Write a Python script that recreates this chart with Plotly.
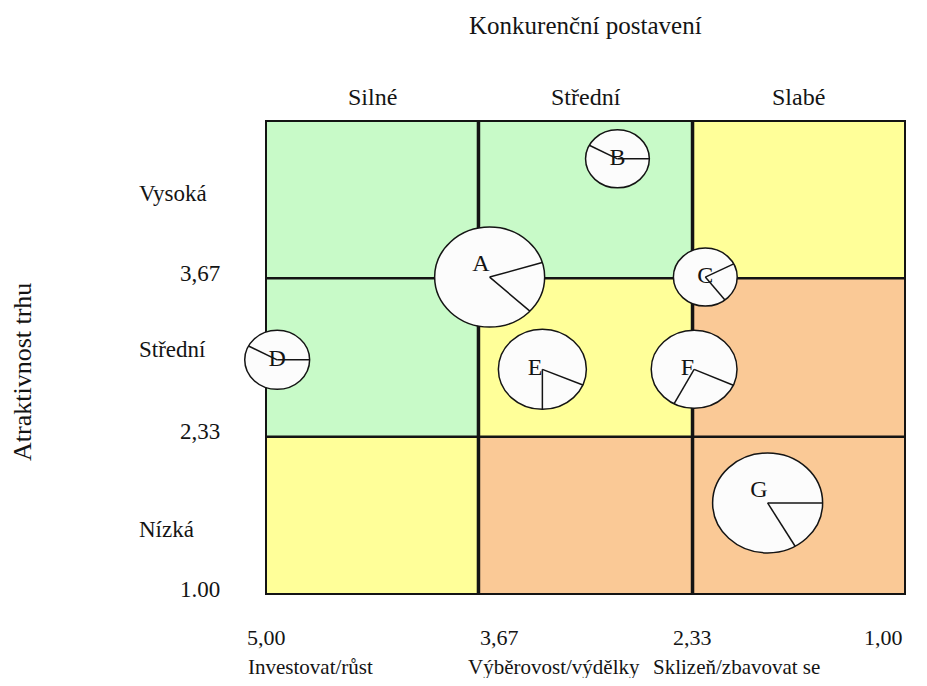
import math
import plotly.graph_objects as go

# ---------------- data ----------------
col_labels = ["Silné", "Střední", "Slabé"]
row_labels = ["Vysoká", "Střední", "Nízká"]
boundaries = [5.00, 3.67, 2.33, 1.00]
x_tick_vals = [5.00, 3.67, 2.33, 1.00]
x_tick_text = ["5,00", "3,67", "2,33", "1,00"]
y_tick_vals = [3.67, 2.33, 1.00]
y_tick_text = ["3,67", "2,33", "1.00"]
strategy_labels = ["Investovat/růst", "Výběrovost/výdělky", "Sklizeň/zbavovat se"]

units = ["A", "B", "C", "D", "E", "F", "G"]
competitive_position = [3.60, 2.80, 2.25, 4.93, 3.27, 2.32, 1.86]
market_attractiveness = [3.68, 4.68, 3.68, 2.98, 2.90, 2.90, 1.77]
market_size = [5.0, 2.9, 2.9, 2.95, 4.0, 3.9, 5.0]
share_start_deg = [17, 0, 27, 0, -23, -24, 0]
share_end_deg = [-43, 152, -52, 152, -90, -118, -60]

# zones: rows top->bottom, cols left->right
cell_zone = [["grow", "grow", "select"],
             ["grow", "select", "harvest"],
             ["select", "harvest", "harvest"]]

# ---------------- style / layout ----------------
zone_color = {"grow": "#C8FAC8", "select": "#FFFF99", "harvest": "#FAC996"}
FONT = "Liberation Serif"
INK = "#141414"
PAGE_W, PAGE_H, BODY = 927, 686, 8          # browser body margin is 8px
W, H = PAGE_W - 2 * BODY, PAGE_H - 2 * BODY
# page-pixel geometry
GRID_L, GRID_R, GRID_T, GRID_B = 266, 905, 121, 594
PLOT_L, PLOT_R, PLOT_T, PLOT_B = 226, 918, 85, 606
PX_PER_SIZE = 10.0
ASPECT = 1.1

xppu = (GRID_R - GRID_L) / (boundaries[0] - boundaries[-1])
yppu = (GRID_B - GRID_T) / (boundaries[0] - boundaries[-1])
x_range = [boundaries[0] + (GRID_L - PLOT_L) / xppu, boundaries[-1] - (PLOT_R - GRID_R) / xppu]
y_range = [boundaries[-1] - (PLOT_B - GRID_B) / yppu, boundaries[0] + (GRID_T - PLOT_T) / yppu]


def pxp(px):
    return (px - PLOT_L) / (PLOT_R - PLOT_L)


def pyp(py):
    return (PLOT_B - py) / (PLOT_B - PLOT_T)


shapes = []
for i in range(3):
    for j in range(3):
        shapes.append(dict(type="rect", xref="x", yref="y",
                           x0=boundaries[j], x1=boundaries[j + 1],
                           y0=boundaries[i], y1=boundaries[i + 1],
                           fillcolor=zone_color[cell_zone[i][j]],
                           line=dict(width=0), layer="below"))
for v in boundaries[1:-1]:
    shapes.append(dict(type="line", xref="x", yref="y", x0=v, x1=v,
                       y0=boundaries[-1], y1=boundaries[0],
                       line=dict(color=INK, width=3.5), layer="below"))
    shapes.append(dict(type="line", xref="x", yref="y", y0=v, y1=v,
                       x0=boundaries[0], x1=boundaries[-1],
                       line=dict(color=INK, width=2.5), layer="below"))
shapes.append(dict(type="rect", xref="x", yref="y",
                   x0=boundaries[0], x1=boundaries[-1],
                   y0=boundaries[-1], y1=boundaries[0],
                   line=dict(color=INK, width=2), fillcolor="rgba(0,0,0,0)",
                   layer="below"))
for cx, cy, s, a0, a1 in zip(competitive_position, market_attractiveness,
                             market_size, share_start_deg, share_end_deg):
    ry = s * PX_PER_SIZE
    rx = ry * ASPECT
    shapes.append(dict(type="circle", xref="x", yref="y",
                       xsizemode="pixel", ysizemode="pixel",
                       xanchor=cx, yanchor=cy,
                       x0=-rx, x1=rx, y0=-ry, y1=ry,
                       fillcolor="#FCFCFC", line=dict(color=INK, width=1.5),
                       layer="below"))
    for a in (a0, a1):
        t = math.radians(a)
        shapes.append(dict(type="line", xref="x", yref="y",
                           xsizemode="pixel", ysizemode="pixel",
                           xanchor=cx, yanchor=cy,
                           x0=0, y0=0, x1=rx * math.cos(t), y1=ry * math.sin(t),
                           line=dict(color=INK, width=1.5), layer="below"))

label_pos = ["top left", "middle center", "middle center", "middle center",
             "middle left", "middle left", "top left"]

fig = go.Figure()
fig.add_trace(go.Scatter(
    x=competitive_position, y=market_attractiveness, mode="text",
    text=units, textposition=label_pos,
    textfont=dict(family=FONT, size=24, color=INK),
    hoverinfo="skip", showlegend=False, cliponaxis=False))


def note(text, x, y, size, xref="paper", yref="paper", xanchor="center",
         yanchor="middle", **kw):
    return dict(text=text, x=x, y=y, xref=xref, yref=yref, xanchor=xanchor,
                yanchor=yanchor, showarrow=False,
                font=dict(family=FONT, size=size, color=INK), **kw)


ann = [note("Konkurenční postavení", (boundaries[0] + boundaries[-1]) / 2, pyp(26), 25,
            xref="x")]
for j, lab in enumerate(col_labels):
    ann.append(note(lab, (boundaries[j] + boundaries[j + 1]) / 2, pyp(97), 24, xref="x"))
for lab, py in zip(row_labels, [193, 349, 529]):
    ann.append(note(lab, pxp(137), pyp(py), 23, xanchor="left"))
for v, t in zip(y_tick_vals, y_tick_text):
    ann.append(note(t, pxp(222), v, 23, yref="y", xanchor="right", yshift=5))
for v, t, xa in zip(x_tick_vals, x_tick_text, ["center", "left", "center", "right"]):
    ann.append(note(t, v, pyp(637), 22, xref="x", xanchor=xa))
for lab, px in zip(strategy_labels, [246, 466, 651]):
    ann.append(note(lab, pxp(px), pyp(667), 21, xanchor="left"))
ann.append(note("Atraktivnost trhu", pxp(22), pyp(372), 26, textangle=-90))

fig.update_layout(
    width=W, height=H,
    margin=dict(l=PLOT_L - BODY, r=W - (PLOT_R - BODY), t=PLOT_T - BODY,
                b=H - (PLOT_B - BODY), pad=0),
    paper_bgcolor="white", plot_bgcolor="white",
    xaxis=dict(range=x_range, visible=False, fixedrange=True),
    yaxis=dict(range=y_range, visible=False, fixedrange=True),
    shapes=shapes, annotations=ann, showlegend=False,
)

fig.write_html("out.html")
